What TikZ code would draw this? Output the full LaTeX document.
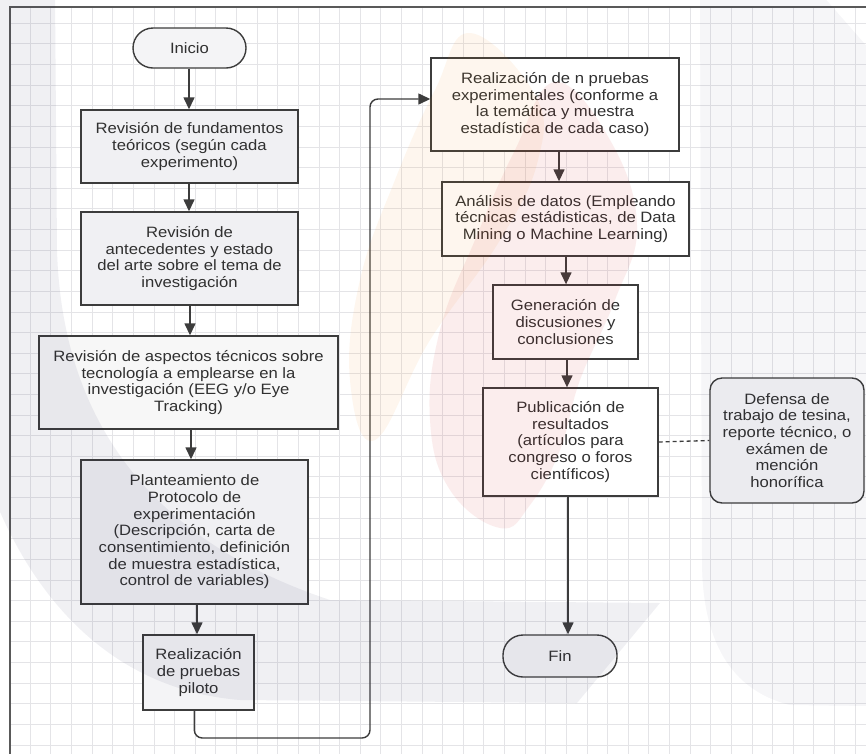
\documentclass[tikz,border=0pt]{standalone}
\usepackage{fontspec}
\setmainfont{Liberation Sans}[FakeStretch=1.11]
\usetikzlibrary{arrows.meta}

\definecolor{ink}{HTML}{303030}
\definecolor{edge}{HTML}{3C3C3C}
\definecolor{gridc}{HTML}{E4E4E7}
\definecolor{boxgray}{HTML}{F0F0F3}
\definecolor{termfill}{HTML}{F4F4F6}
\definecolor{wmgray}{RGB}{35,35,85}
\definecolor{wmorange}{RGB}{242,142,28}
\definecolor{wmred}{RGB}{208,35,35}

\begin{document}
\begin{tikzpicture}[x=1pt,y=-1pt,
  txt/.style={font=\fontsize{15}{16.7}\selectfont, text=ink, align=center},
  proc/.style={txt, draw=edge, line width=1.4pt, fill=white, rectangle, inner sep=0pt},
  term/.style={proc, rounded corners=20pt, fill=termfill},
  note/.style={proc, rounded corners=12pt, fill=termfill},
  arr/.style={draw=edge, line width=1.4pt, -{Triangle[width=11pt,length=12pt]}},
  link/.style={draw=edge, line width=1.3pt, dash pattern=on 4pt off 3pt},
]
\useasboundingbox (0,0) rectangle (866,753);
\clip (0,0) rectangle (866,753);
\fill[white] (0,0) rectangle (866,753);

% background grid inside the frame
\foreach \i in {0,...,41}
  \draw[gridc, line width=1pt] ({9.7+20.62*\i},7) -- ({9.7+20.62*\i},760);
\foreach \j in {1,...,37}
  \draw[gridc, line width=1pt] (10,{2.7+20.62*\j}) -- (870,{2.7+20.62*\j});

% page frame
\draw[edge!85, line width=1.5pt] (10,760) -- (10,7) -- (870,7);

% left column
\node[term, minimum width=113pt, minimum height=40pt] (ini) at (189.5,48) {Inicio};
\node[proc, fill=boxgray, minimum width=217pt, minimum height=73pt] (b1) at (189.5,146.5)
  {Revisión de fundamentos\\teóricos (según cada\\experimento)};
\node[proc, fill=boxgray, minimum width=217pt, minimum height=93pt] (b2) at (189.5,258.5)
  {Revisión de\\antecedentes y estado\\del arte sobre el tema de\\investigación};
\node[proc, fill=white!97!black, minimum width=299pt, minimum height=93pt] (b3) at (188.5,382.5)
  {Revisión de aspectos técnicos sobre\\tecnología a emplearse en la\\investigación (EEG y/o Eye\\Tracking)};
\node[proc, fill=boxgray, minimum width=227pt, minimum height=144pt] (b4) at (194.5,532)
  {Planteamiento de\\Protocolo de\\experimentación\\(Descripción, carta de\\consentimiento, definición\\de muestra estadística,\\control de variables)};
\node[proc, fill=termfill, minimum width=111pt, minimum height=75pt] (b5) at (198.5,672.5)
  {Realización\\de pruebas\\piloto};

% right column
\node[proc, minimum width=248pt, minimum height=93pt] (r1) at (555,104.5)
  {Realización de n pruebas\\experimentales (conforme a\\la temática y muestra\\estadística de cada caso)};
\node[proc, minimum width=247pt, minimum height=74pt] (r2) at (565.5,219)
  {Análisis de datos (Empleando\\técnicas estádisticas, de Data\\Mining o Machine Learning)};
\node[proc, minimum width=145pt, minimum height=74pt] (r3) at (565.5,322)
  {Generación de\\discusiones y\\conclusiones};
\node[proc, minimum width=175pt, minimum height=108pt] (r4) at (570.5,442)
  {Publicación de\\resultados\\(artículos para\\congreso o foros\\científicos)};
\node[note, minimum width=154pt, minimum height=125pt] (def) at (787,440.5)
  {Defensa de\\trabajo de tesina,\\reporte técnico, o\\exámen de\\mención\\honorífica};
\node[term, minimum width=114pt, minimum height=42pt] (fin) at (560,656) {Fin};

% arrow columns
\coordinate (xa) at (189,0);
\coordinate (xb) at (190,0);
\coordinate (xc) at (191,0);
\coordinate (xd) at (197,0);
\coordinate (xe) at (559,0);
\coordinate (xf) at (566,0);
\coordinate (xg) at (567,0);
\coordinate (xh) at (568,0);

\draw[arr] (ini.south -| xa) -- (b1.north -| xa);
\draw[arr] (b1.south -| xa) -- (b2.north -| xa);
\draw[arr] (b2.south -| xb) -- (b3.north -| xb);
\draw[arr] (b3.south -| xc) -- (b4.north -| xc);
\draw[arr] (b4.south -| xd) -- (b5.north -| xd);
\draw[arr] (r1.south -| xe) -- (r2.north -| xe);
\draw[arr] (r2.south -| xf) -- (r3.north -| xf);
\draw[arr] (r3.south -| xg) -- (r4.north -| xg);
\draw[arr] (r4.south -| xh) -- (fin.north -| xh);

% return path from the pilot tests to the experiments
\coordinate (loopa) at (370,738);
\coordinate (loopb) at (370,99);
\draw[arr, rounded corners=8pt] ([xshift=-4.2pt]b5.south) |- (loopa) -- (loopb) -- (r1.west |- loopb);

% dashed annotation link
\draw[link] (r4.east) -- (def.west);

% faint watermark over the page
\fill[wmgray, fill opacity=0.065]
  (-5,-5) -- (55,-5) -- (57,250) .. controls (62,420) and (150,540) .. (330,600)
  -- (660,603) -- (577,703) -- (240,700) .. controls (120,690) and (40,610) .. (-5,500) -- cycle;
\fill[wmgray, fill opacity=0.04]
  (700,-5) -- (822,-5) -- (870,50) -- (870,706) -- (790,705)
  .. controls (730,690) and (702,640) .. (702,560) -- cycle;
\fill[wmorange, fill opacity=0.075] plot[smooth cycle, tension=0.7] coordinates
  {(470,33) (535,95) (538,160) (500,240) (430,340) (375,440) (350,380) (360,280) (395,180) (435,90)};
\fill[wmred, fill opacity=0.08] plot[smooth cycle, tension=0.7] coordinates
  {(555,82) (610,140) (637,225) (615,300) (580,380) (560,450) (530,505) (500,528) (450,490) (430,420) (440,330) (475,240) (515,150)};
\end{tikzpicture}
\end{document}
